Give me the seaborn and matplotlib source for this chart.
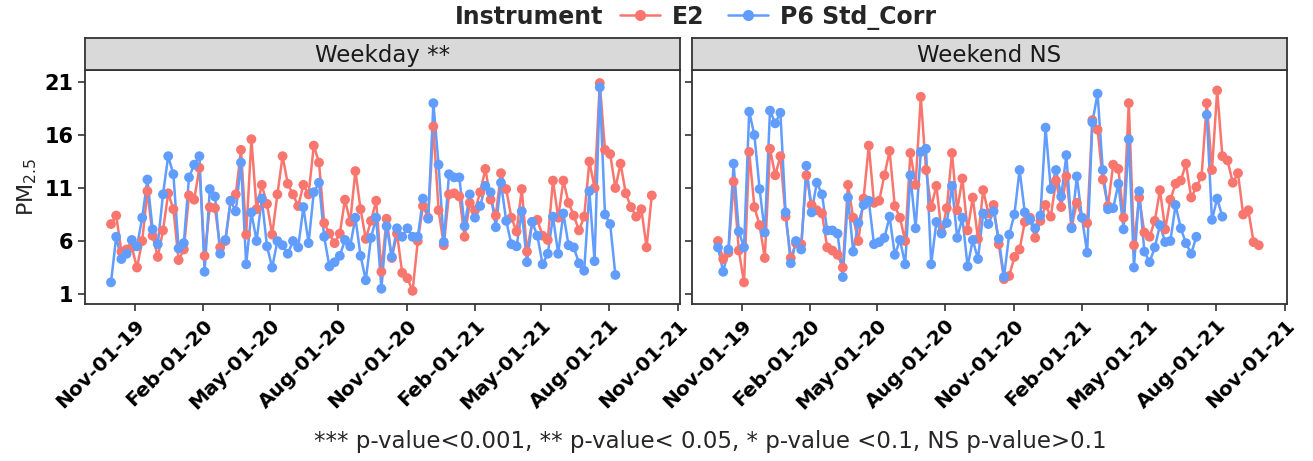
import numpy as np
import pandas as pd
import matplotlib
matplotlib.use("Agg")
import matplotlib.pyplot as plt
import seaborn as sns
from matplotlib.lines import Line2D

nan = np.nan
dates = pd.date_range("2019-09-30", periods=105, freq="7D")

weekday_e2 = [
    7.6, 8.4, 5.0, 5.2, 5.4, 3.5, 6.0, 10.7, 6.5, 4.5,
    7.0, 10.5, 9.0, 4.2, 5.2, 10.3, 9.9, 12.9, 4.6, 9.2,
    9.1, 5.4, 6.0, 9.8, 10.4, 14.6, 6.6, 15.6, 9.0, 11.3,
    9.5, 6.6, 10.4, 14.0, 11.4, 10.4, 9.3, 11.3, 10.4, 15.0,
    13.4, 7.7, 6.7, 5.8, 6.7, 9.9, 7.8, 12.6, 9.0, 6.2,
    7.9, 9.8, 3.1,
    8.1, 4.4, 6.7, 3.0, 2.5, 1.3, 6.0, 9.3, 8.2, 16.8,
    8.9, 5.6, 10.4, 10.5, 10.2, 6.4, 9.6, 8.9, 10.6, 12.8,
    9.9, 8.4, 12.4, 10.9, 8.2, 6.9, 10.9, 5.0, 7.8, 8.0,
    6.5, 6.1, 11.7, 8.2, 11.7, 9.6, 8.4, 7.0, 8.3, 13.5,
    11.0, 20.9, 14.6, 14.2, 11.0, 13.3, 10.5, 9.2, 8.3, 9.0,
    5.4, 10.3,
]
weekday_p6 = [
    2.1, 6.4, 4.3, 4.8, 6.1, 5.5, 8.2, 11.8, 7.1, 5.7,
    10.4, 14.0, 12.3, 5.3, 5.8, 12.0, 13.2, 14.0, 3.1, 10.9,
    10.2, 4.8, 6.1, 9.8, 8.8, 13.4, 3.8, 8.7, 6.0, 10.0,
    5.5, 3.5, 6.0, 5.6, 4.8, 6.0, 5.4, 9.2, 5.8, 10.6,
    11.5, 6.4, 3.6, 4.0, 4.6, 6.1, 5.5, 8.2, 4.6, 2.3,
    6.3, 8.2, 1.5,
    7.4, 4.5, 7.2, 6.4, 7.2, 6.4, 6.4, 10.0, 8.1, 19.0,
    13.2, 5.9, 12.3, 12.0, 12.0, 7.4, 10.4, 8.2, 9.3, 11.2,
    10.6, 7.3, 11.5, 7.9, 5.7, 5.5, 8.8, 4.0, 7.8, 6.5,
    3.8, 4.8, 8.3, 4.8, 8.6, 5.6, 5.4, 3.9, 3.2, 10.7,
    4.1, 20.5, 8.5, 7.6, 2.8,
    nan, nan, nan, nan, nan, nan, nan,
]
weekend_e2 = [
    6.0, 4.3, 4.9, 11.6, 5.1, 2.1, 14.4, 9.2, 7.5, 4.4,
    14.7, 12.2, 14.0, 8.3, 4.4, 5.8, 5.7, 12.2, 9.4, 8.9,
    8.6, 5.4, 5.1, 4.7, 3.5, 11.3, 8.2, 6.0, 10.0, 15.0,
    9.6, 9.8, 12.2, 14.5, 9.3, 8.2, 6.0, 14.3, 11.3, 19.6,
    12.7, 9.2, 11.2, 6.8, 9.1, 14.3, 8.9, 11.9, 7.0, 10.1,
    6.2, 10.8, 8.6,
    9.4, 5.7, 2.4, 2.7, 4.5, 5.2, 7.8, 8.2, 6.3, 7.9,
    9.4, 8.3, 11.7, 9.2, 12.1, 7.3, 9.6, 8.2, 7.7, 17.4,
    16.5, 11.8, 9.3, 13.2, 12.8, 8.2, 19.0, 5.6, 10.1, 6.8,
    6.4, 7.9, 10.8, 7.1, 9.9, 11.4, 11.7, 13.3, 10.1, 11.1,
    12.1, 19.0, 12.7, 20.2, 14.0, 13.6, 11.5, 12.4, 8.5, 8.9,
    5.9, 5.6,
]
weekend_p6 = [
    5.4, 3.1, 5.2, 13.3, 6.9, 5.4, 18.2, 16.0, 10.9, 6.8,
    18.3, 17.1, 18.1, 8.7, 3.9, 6.0, 5.2, 13.1, 8.7, 11.5,
    10.4, 7.0, 7.0, 6.7, 2.6, 10.1, 5.0, 7.7, 9.4, 9.8,
    5.7, 5.9, 6.3, 8.3, 4.7, 6.1, 3.8, 12.2, 7.2, 14.4,
    14.7, 3.8, 7.8, 6.7, 7.7, 11.2, 6.3, 8.2, 3.6, 6.1,
    4.3, 8.6, 7.6,
    8.8, 6.2, 2.6, 6.6, 8.5, 12.7, 8.7, 8.0, 7.2, 8.4,
    16.7, 10.9, 12.7, 10.2, 14.1, 7.2, 12.1, 8.2, 4.9, 17.2,
    19.9, 12.7, 9.0, 9.1, 11.4, 7.1, 15.6, 3.5, 10.7, 5.0,
    4.0, 5.4, 7.5, 5.9, 6.0, 9.4, 7.2, 5.8, 4.8, 6.4,
    nan, 17.9, 8.0, 10.0, 8.3,
    nan, nan, nan, nan, nan, nan, nan,
]

panels = ["Weekday **", "Weekend NS"]
instruments = ["E2", "P6 Std_Corr"]
colors = {"E2": "#F8766D", "P6 Std_Corr": "#619CFF"}
series = {
    ("Weekday **", "E2"): weekday_e2,
    ("Weekday **", "P6 Std_Corr"): weekday_p6,
    ("Weekend NS", "E2"): weekend_e2,
    ("Weekend NS", "P6 Std_Corr"): weekend_p6,
}
ticks = pd.to_datetime(["2019-11-01", "2020-02-01", "2020-05-01", "2020-08-01",
                        "2020-11-01", "2021-02-01", "2021-05-01", "2021-08-01",
                        "2021-11-01"])
tick_labels = [t.strftime("%b-%d-%y") for t in ticks]

sns.set_theme(style="white")
plt.rcParams["font.family"] = ["DejaVu Sans"]

W, H = 1313, 461
fig = plt.figure(figsize=(W / 100, H / 100), dpi=100)
lefts = [85, 692]
pw = 595
top, bottom = 70, 304

for i, panel in enumerate(panels):
    ax = fig.add_axes([lefts[i] / W, 1 - bottom / H, pw / W, (bottom - top) / H])
    for inst in instruments:
        vals = np.array(series[(panel, inst)], dtype=float)
        # line drawn separately so gaps stay gaps
        ax.plot(dates, vals, color=colors[inst], lw=1.8, zorder=2)
        sns.scatterplot(x=dates, y=vals, color=colors[inst], s=50,
                        edgecolor="none", ax=ax, zorder=3)
    ax.set_xlim(pd.Timestamp("2019-08-26"), pd.Timestamp("2021-11-04"))
    ax.set_ylim(0.06, 22.13)
    ax.set_yticks([1, 6, 11, 16, 21])
    ax.set_xticks(ticks)
    ax.set_xticklabels(tick_labels, rotation=45, ha="right", rotation_mode="anchor",
                       fontsize=14.5, fontweight="bold", color="black")
    ax.tick_params(axis="both", length=5, width=1.2, color="#333333", bottom=True, left=True)
    if i == 0:
        ax.set_yticklabels([1, 6, 11, 16, 21], fontsize=15, fontweight="bold", color="black")
        ax.set_ylabel("PM$_{2.5}$", fontsize=16)
    else:
        ax.set_yticklabels([])
        ax.set_ylabel("")
    ax.set_xlabel("")
    for s in ax.spines.values():
        s.set_color("#333333")
        s.set_linewidth(1.3)
    # facet strip
    sax = fig.add_axes([lefts[i] / W, 1 - top / H, pw / W, 32 / H])
    sax.set_xticks([])
    sax.set_yticks([])
    sax.set_facecolor("#D9D9D9")
    for s in sax.spines.values():
        s.set_color("#333333")
        s.set_linewidth(1.3)
    sax.text(0.5, 0.45, panel, ha="center", va="center", fontsize=16.5, color="#1A1A1A",
             transform=sax.transAxes)

fig.text(603 / W, 1 - 17 / H, "Instrument", ha="right", va="center",
         fontsize=17, fontweight="bold")
handles = [Line2D([0], [0], color=colors[k], marker="o", markersize=7, lw=1.8)
           for k in instruments]
fig.legend(handles, instruments, loc="center left", bbox_to_anchor=(608 / W, 1 - 17 / H),
           ncol=2, frameon=False, handlelength=1.7, columnspacing=1.0,
           handletextpad=0.5, borderpad=0, prop={"size": 17, "weight": "bold"})
fig.text(710 / W, 1 - 441 / H, "*** p-value<0.001, ** p-value< 0.05, * p-value <0.1, NS p-value>0.1",
         ha="center", va="center", fontsize=16.5)

fig.savefig("out.png", dpi=100)
